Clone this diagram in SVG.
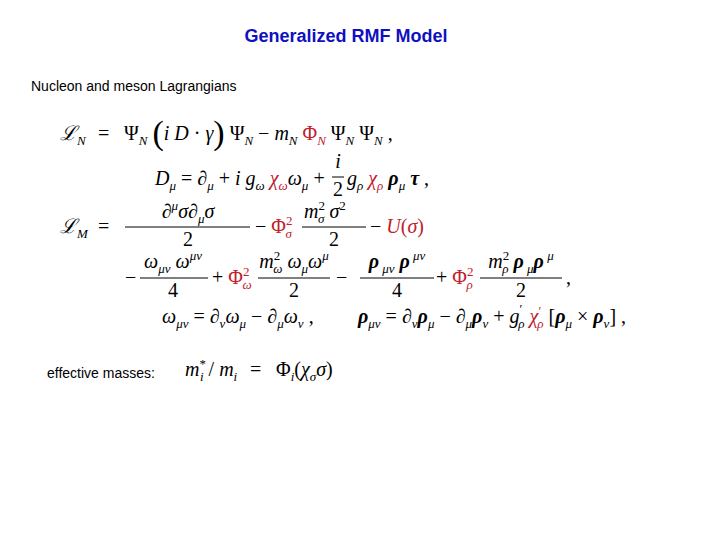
<svg xmlns="http://www.w3.org/2000/svg" width="720" height="540" viewBox="0 0 720 540">
<style>
.m{font-family:"Liberation Serif",serif;font-size:20px;fill:#000}
.i{font-style:italic}
.r{fill:#c0202a}
.b{font-weight:bold}
.s{font-size:13px}
.t{font-family:"Liberation Sans",Arial,sans-serif;font-size:14px;fill:#000}
line{stroke:#000;stroke-width:1}
</style>
<rect width="720" height="540" fill="#fff"/>
<g id="title"><text x="346" y="42" text-anchor="middle" font-family="Liberation Sans,Arial,sans-serif" font-size="18" font-weight="bold" fill="#1010c0">Generalized RMF Model</text></g>
<g id="subtitle"><text class="t" x="31" y="91">Nucleon and meson Lagrangians</text></g>
<g id="eq1">
<text class="m" x="60" y="140"><tspan class="i">ℒ</tspan><tspan class="i s" dy="5">N</tspan><tspan dy="-5" x="98">=</tspan><tspan x="124">Ψ</tspan><tspan class="i s" dy="5">N</tspan><tspan dy="-5"> </tspan><tspan font-size="34" dy="4">(</tspan><tspan class="i" dy="-4">i D</tspan><tspan> · </tspan><tspan class="i">γ</tspan><tspan font-size="34" dy="4">)</tspan><tspan dy="-4"> Ψ</tspan><tspan class="i s" dy="5">N</tspan><tspan dy="-5"> − </tspan><tspan class="i">m</tspan><tspan class="i s" dy="5">N</tspan><tspan class="r" dy="-5"> Φ</tspan><tspan class="i s r" dy="5">N</tspan><tspan dy="-5"> Ψ</tspan><tspan class="i s" dy="5">N</tspan><tspan dy="-5"> Ψ</tspan><tspan class="i s" dy="5">N</tspan><tspan dy="-5"> ,</tspan></text>
</g>
<g id="eq2">
<text class="m" x="155" y="185"><tspan class="i">D</tspan><tspan class="i s" dy="5">μ</tspan><tspan dy="-5"> = ∂</tspan><tspan class="i s" dy="5">μ</tspan><tspan dy="-5"> + </tspan><tspan class="i">i g</tspan><tspan class="i s" dy="5">ω</tspan><tspan class="i r" dy="-5"> χ</tspan><tspan class="i s r" dy="5">ω</tspan><tspan class="i" dy="-5">ω</tspan><tspan class="i s" dy="5">μ</tspan><tspan dy="-5"> +</tspan></text>
<text class="m i" x="338" y="168" text-anchor="middle">i</text><line x1="332" y1="177" x2="344" y2="177"/><text class="m" x="338" y="196" text-anchor="middle">2</text>
<text class="m" x="347" y="185"><tspan class="i">g</tspan><tspan class="i s" dy="5">ρ</tspan><tspan class="i r" dy="-5"> χ</tspan><tspan class="i s r" dy="5">ρ</tspan><tspan class="b i" dy="-5"> ρ</tspan><tspan class="i s" dy="5">μ</tspan><tspan class="b i" dy="-5"> τ</tspan><tspan> ,</tspan></text>
</g>
<g id="eq3">
<text class="m" x="60" y="233"><tspan class="i">ℒ</tspan><tspan class="i s" dy="5">M</tspan><tspan dy="-5" x="98">=</tspan></text>
<text class="m" x="188" y="218" text-anchor="middle">∂<tspan class="i s" dy="-8">μ</tspan><tspan class="i" dy="8">σ</tspan>∂<tspan class="i s" dy="5">μ</tspan><tspan class="i" dy="-5">σ</tspan></text>
<line x1="125" y1="227" x2="250" y2="227"/><text class="m" x="188" y="246" text-anchor="middle">2</text>
<text class="m" x="255" y="233"> − <tspan class="r">Φ</tspan><tspan class="s r" dy="-8">2</tspan><tspan class="i s r" dx="-7" dy="13">σ</tspan></text>
<text class="m" x="304" y="218"><tspan class="i">m</tspan><tspan class="s" dy="-8">2</tspan><tspan class="i s" dx="-7" dy="13">σ</tspan><tspan class="i" dy="-5"> σ</tspan><tspan class="s" dy="-8">2</tspan></text>
<line x1="302" y1="227" x2="366" y2="227"/><text class="m" x="334" y="246" text-anchor="middle">2</text>
<text class="m" x="370" y="233"> − <tspan class="i r">U</tspan><tspan class="r">(</tspan><tspan class="i r">σ</tspan><tspan class="r">)</tspan></text>
</g>
<g id="eq4">
<text class="m" x="125" y="284">−</text>
<text class="m" x="173" y="268" text-anchor="middle"><tspan class="i">ω</tspan><tspan class="i s" dy="5">μν</tspan><tspan class="i" dy="-5"> ω</tspan><tspan class="i s" dy="-8">μν</tspan></text>
<line x1="140" y1="278" x2="208" y2="278"/><text class="m" x="173" y="297" text-anchor="middle">4</text>
<text class="m" x="212" y="284"> + <tspan class="r">Φ</tspan><tspan class="s r" dy="-8">2</tspan><tspan class="i s r" dx="-7" dy="13">ω</tspan></text>
<text class="m" x="294" y="268" text-anchor="middle"><tspan class="i">m</tspan><tspan class="s" dy="-8">2</tspan><tspan class="i s" dx="-7" dy="13">ω</tspan><tspan class="i" dy="-5"> ω</tspan><tspan class="i s" dy="5">μ</tspan><tspan class="i" dy="-5">ω</tspan><tspan class="i s" dy="-8">μ</tspan></text>
<line x1="258" y1="278" x2="330" y2="278"/><text class="m" x="294" y="297" text-anchor="middle">2</text>
<text class="m" x="336" y="284">−</text>
<text class="m" x="397" y="268" text-anchor="middle"><tspan class="b i">ρ</tspan><tspan class="i s" dy="5"> μν</tspan><tspan class="b i" dy="-5"> ρ</tspan><tspan class="i s" dy="-8"> μν</tspan></text>
<line x1="360" y1="278" x2="434" y2="278"/><text class="m" x="397" y="297" text-anchor="middle">4</text>
<text class="m" x="436" y="284"> + <tspan class="r">Φ</tspan><tspan class="s r" dy="-8">2</tspan><tspan class="i s r" dx="-7" dy="13">ρ</tspan></text>
<text class="m" x="521" y="268" text-anchor="middle"><tspan class="i">m</tspan><tspan class="s" dy="-8">2</tspan><tspan class="i s" dx="-7" dy="13">ρ</tspan><tspan class="b i" dy="-5"> ρ</tspan><tspan class="i s" dy="5"> μ</tspan><tspan class="b i" dy="-5">ρ</tspan><tspan class="i s" dy="-8"> μ</tspan></text>
<line x1="480" y1="278" x2="562" y2="278"/><text class="m" x="521" y="297" text-anchor="middle">2</text>
<text class="m" x="566" y="284">,</text>
</g>
<g id="eq5">
<text class="m" x="162" y="323"><tspan class="i">ω</tspan><tspan class="i s" dy="5">μν</tspan><tspan dy="-5"> = ∂</tspan><tspan class="i s" dy="5">ν</tspan><tspan class="i" dy="-5">ω</tspan><tspan class="i s" dy="5">μ</tspan><tspan dy="-5"> − ∂</tspan><tspan class="i s" dy="5">μ</tspan><tspan class="i" dy="-5">ω</tspan><tspan class="i s" dy="5">ν</tspan><tspan dy="-5"> ,</tspan><tspan x="358" class="b i">ρ</tspan><tspan class="i s" dy="5">μν</tspan><tspan dy="-5"> = ∂</tspan><tspan class="i s" dy="5">ν</tspan><tspan class="b i" dy="-5">ρ</tspan><tspan class="i s" dy="5">μ</tspan><tspan dy="-5"> − ∂</tspan><tspan class="i s" dy="5">μ</tspan><tspan class="b i" dy="-5">ρ</tspan><tspan class="i s" dy="5">ν</tspan><tspan dy="-5"> + </tspan><tspan class="i">g</tspan><tspan class="s" dy="-10">′</tspan><tspan class="i s" dx="-4" dy="15">ρ</tspan><tspan class="i r" dy="-5"> χ</tspan><tspan class="r s" dy="-8">′</tspan><tspan class="i s r" dx="-4" dy="13">ρ</tspan><tspan dy="-5"> [</tspan><tspan class="b i">ρ</tspan><tspan class="i s" dy="5">μ</tspan><tspan dy="-5"> × </tspan><tspan class="b i">ρ</tspan><tspan class="i s" dy="5">ν</tspan><tspan dy="-5">] ,</tspan></text>
</g>
<g id="eq6">
<text class="t" x="47" y="378">effective masses:</text>
<text class="m" x="185" y="376"><tspan class="i">m</tspan><tspan class="s" dy="-8">*</tspan><tspan class="i s" dx="-6" dy="13">i</tspan><tspan dy="-5"> / </tspan><tspan class="i">m</tspan><tspan class="i s" dy="5">i</tspan><tspan dy="-5" x="250">=</tspan><tspan x="276">Φ</tspan><tspan class="i s" dy="5">i</tspan><tspan dy="-5">(</tspan><tspan class="i">χ</tspan><tspan class="i s" dy="5">σ</tspan><tspan class="i" dy="-5">σ</tspan><tspan>)</tspan></text>
</g>
</svg>
